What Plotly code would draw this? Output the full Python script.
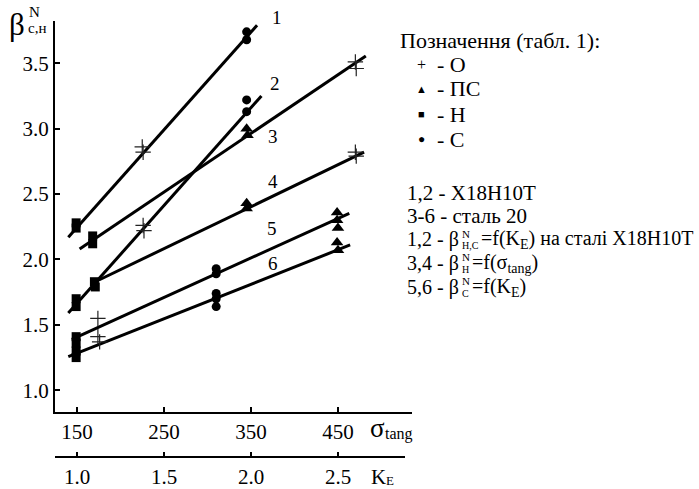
import plotly.graph_objects as go

# ---------------- data ----------------
sigma_ticks = [150, 250, 350, 450]
ke_ticks = [1.0, 1.5, 2.0, 2.5]
beta_ticks = [1.0, 1.5, 2.0, 2.5, 3.0, 3.5]

# fitted lines 1..6 (x in sigma_tang units; K_E = 1 + (sigma-150)/200)
line_ids = ["1", "2", "3", "4", "5", "6"]
line_x0 = [140, 140, 153, 168, 144, 140]
line_x1 = [357, 362, 482, 480, 463, 464]
line_y0 = [2.17, 1.59, 2.08, 1.82, 1.39, 1.257]
line_y1 = [3.79, 3.25, 3.556, 2.82, 2.353, 2.111]

# experimental points by marker type
cross_x = [225, 226, 226, 227, 470, 471, 470, 471, 174, 174, 176]
cross_y = [2.86, 2.82, 2.26, 2.22, 3.51, 3.46, 2.82, 2.79, 1.55, 1.41, 1.37]
tri_x = [345, 346, 345, 345, 449, 449, 450, 449, 450]
tri_y = [3.00, 2.95, 2.43, 2.39, 2.36, 2.30, 2.24, 2.13, 2.07]
sq_x = [149, 149, 168, 168, 149, 149, 170, 171, 149, 149, 149, 149]
sq_y = [2.28, 2.24, 2.18, 2.12, 1.70, 1.64, 1.83, 1.79, 1.41, 1.36, 1.30, 1.25]
circ_x = [345, 345, 345, 345, 310, 310, 310, 310, 310]
circ_y = [3.74, 3.68, 3.22, 3.13, 1.93, 1.89, 1.74, 1.70, 1.64]

FONT = "Liberation Serif"

# ---------------- figure ----------------
fig = go.Figure()
for i in range(len(line_ids)):
    fig.add_trace(go.Scatter(x=[line_x0[i], line_x1[i]], y=[line_y0[i], line_y1[i]],
                             mode="lines", line=dict(color="black", width=3),
                             hoverinfo="skip", showlegend=False))

fig.add_trace(go.Scatter(x=cross_x, y=cross_y, mode="markers",
                         marker=dict(symbol="cross-thin", size=11, color="black",
                                     line=dict(color="#222", width=1.2)),
                         showlegend=False))
fig.add_trace(go.Scatter(x=tri_x, y=tri_y, mode="markers",
                         marker=dict(symbol="triangle-up", size=11, color="black"),
                         showlegend=False))
fig.add_trace(go.Scatter(x=sq_x, y=sq_y, mode="markers",
                         marker=dict(symbol="square", size=9, color="black"),
                         showlegend=False))
fig.add_trace(go.Scatter(x=circ_x, y=circ_y, mode="markers",
                         marker=dict(symbol="circle", size=9, color="black"),
                         showlegend=False))

axis_common = dict(showline=True, linecolor="black", linewidth=2, ticks="inside",
                   ticklen=5, tickwidth=2, tickcolor="black", showgrid=False,
                   zeroline=False, tickfont=dict(family=FONT, size=21, color="black"))

fig.update_layout(
    width=699, height=489,
    margin=dict(l=55, r=287, t=21, b=32),
    paper_bgcolor="white", plot_bgcolor="white",
    showlegend=False,
    font=dict(family=FONT, color="black", size=21),
    xaxis=dict(domain=[0, 1], range=[124.7, 535.1], anchor="y",
               tickvals=sigma_ticks, ticktext=[str(v) for v in sigma_ticks],
               **axis_common),
    yaxis=dict(domain=[0.1032, 1], range=[0.834, 3.823], anchor="x",
               tickvals=beta_ticks, ticktext=["%.1f" % v for v in beta_ticks],
               **axis_common),
)


def PX(px):
    return (px - 55) / 357.0


def PY(py):
    return (457 - py) / 436.0


def ann(text, px, py, size=21, xanchor="left", yanchor="middle"):
    fig.add_annotation(text=text, x=PX(px), y=PY(py), xref="paper", yref="paper",
                       showarrow=False, xanchor=xanchor, yanchor=yanchor,
                       font=dict(family=FONT, size=size, color="black"))


# second (K_E) axis drawn as a line + ticks in paper coordinates
fig.add_shape(type="line", xref="paper", yref="paper", x0=PX(55), x1=PX(405),
              y0=PY(457), y1=PY(457), line=dict(color="black", width=2))
for kv in ke_ticks:
    kx = 77 + (kv - 1.0) * 174
    fig.add_shape(type="line", xref="paper", yref="paper", x0=PX(kx), x1=PX(kx),
                  y0=PY(457), y1=PY(452), line=dict(color="black", width=2))
    ann("%.1f" % kv, kx, 477, size=21, xanchor="center")

# line numbers
label_pos = [(277, 17), (275, 84), (273, 136), (273, 182), (272, 228), (273, 263)]
for lid, (lx, ly) in zip(line_ids, label_pos):
    ann(lid, lx, ly, size=19, xanchor="center")

# y-axis title  β^N_{с,н}
ann("β", 17, 24, size=31, xanchor="center")
ann("N", 27, 12, size=15)
ann("с,н", 26, 28, size=15)

# x-axis titles
ann("σ", 368, 428, size=27)
ann("tang", 383, 434, size=16)
ann("K", 369, 477, size=21)
ann("E", 384, 480, size=13)

# legend block
ann("Позначення (табл. 1):", 398, 40, size=22)
sym_rows = [("+", "- О", 64, 16), ("▲", "- ПС", 89, 11), ("■", "- Н", 114, 11), ("●", "- С", 139, 12)]
for sym, txt, ry, ss in sym_rows:
    ann(sym, 422, ry, size=ss, xanchor="center")
    ann(txt, 435, ry, size=22)

ann("1,2 - Х18Н10Т", 405, 193, size=21)
ann("3-6 - сталь 20", 405, 216, size=21)
for ry, lead, sup, sub, tail in [
    (240, "1,2 - β", "N", "Н,С", "=f(K<sub>E</sub>) на сталі Х18Н10Т"),
    (263, "3,4 - β", "N", "Н", "=f(σ<sub>tang</sub>)"),
    (287, "5,6 - β", "N", "С", "=f(K<sub>E</sub>)"),
]:
    ann(lead, 405, ry, size=20)
    ann(sup, 460, ry - 6, size=11)
    ann(sub, 460, ry + 6, size=10)
    ann(tail, 460 + (19 if len(sub) > 1 else 10), ry, size=20)

fig.write_html("out.html")
